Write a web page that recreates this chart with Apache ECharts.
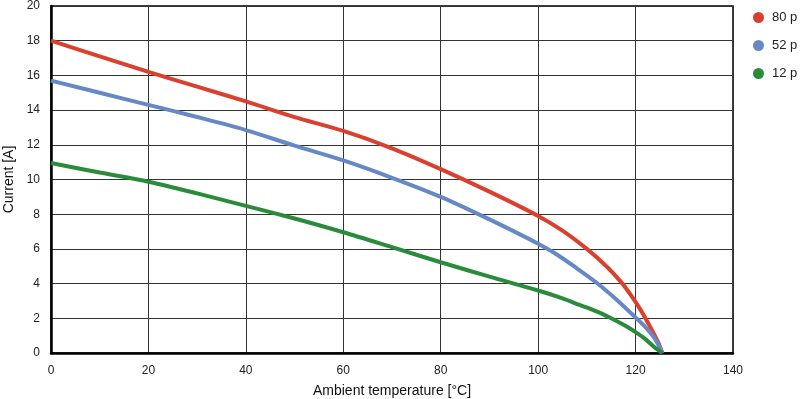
<!DOCTYPE html>
<html>
<head>
<meta charset="utf-8">
<script src="https://cdn.jsdelivr.net/npm/echarts@6/dist/echarts.min.js"></script>
<style>
html,body{margin:0;padding:0;background:#fff;}
#c{width:800px;height:399px;}
</style>
</head>
<body>
<div id="c"></div>
<script>
var seriesNames = ['80 p', '52 p', '12 p'];
var seriesColors = ['#d9412e', '#6689c6', '#2a8b3a'];
var red80 = [[0,18],[10,17.1],[20,16.2],[30,15.35],[40,14.5],[50,13.6],[60,12.8],[70,11.8],[80,10.6],[90,9.3],[100,7.9],[105,7.05],[110,6.0],[114,5.0],[117,4.1],[119,3.35],[121,2.5],[123,1.5],[124.5,0.7],[125.5,0]];
var blue52 = [[0,15.7],[10,15.0],[20,14.3],[30,13.6],[40,12.85],[50,11.95],[60,11.1],[70,10.1],[80,9.0],[90,7.7],[100,6.3],[104,5.65],[108,4.87],[112,4.05],[116,3.1],[120,2.05],[122,1.5],[124,0.8],[125.5,0]];
var green12 = [[0,10.95],[10,10.4],[20,9.87],[30,9.2],[40,8.48],[50,7.75],[60,6.96],[70,6.1],[80,5.23],[90,4.4],[100,3.6],[105,3.15],[108.5,2.77],[112,2.4],[115,2.0],[118,1.55],[120,1.2],[122,0.8],[124,0.3],[125.5,0]];
var xTicks = {min:0, max:140, interval:20};
var yTicks = {min:0, max:20, interval:2};
var allData = [red80, blue52, green12];

var chart = echarts.init(document.getElementById('c'), null, {renderer:'canvas'});
var font = 'Liberation Sans, Arial, sans-serif';
chart.setOption({
  animation:false,
  backgroundColor:'#fff',
  grid:{left:51, right:67, top:6, bottom:46, outerBoundsMode:'none', containLabel:false,
        show:true, borderColor:'#000', borderWidth:1.5, backgroundColor:'transparent'},
  legend:{
    orient:'vertical', left:748, top:6, itemGap:15, itemWidth:11, itemHeight:11,
    icon:'circle', data:seriesNames,
    textStyle:{fontFamily:font, fontSize:13, color:'#222', padding:[0,0,0,3]}
  },
  xAxis:{
    type:'value', min:xTicks.min, max:xTicks.max, interval:xTicks.interval,
    name:'Ambient temperature [°C]', nameLocation:'middle', nameGap:31,
    nameTextStyle:{fontFamily:font, fontSize:14, color:'#111'},
    axisLine:{show:true, lineStyle:{color:'#000', width:2.5}},
    axisTick:{show:false},
    axisLabel:{fontFamily:font, fontSize:12, color:'#222', margin:12},
    splitLine:{show:true, lineStyle:{color:'#333', width:1}}
  },
  yAxis:{
    type:'value', min:yTicks.min, max:yTicks.max, interval:yTicks.interval,
    name:'Current [A]', nameLocation:'middle', nameGap:34,
    nameTextStyle:{fontFamily:font, fontSize:14, color:'#111'},
    axisLine:{show:true, lineStyle:{color:'#000', width:2.5}},
    axisTick:{show:false},
    axisLabel:{fontFamily:font, fontSize:12, color:'#222', margin:11},
    splitLine:{show:true, lineStyle:{color:'#333', width:1}}
  },
  series: seriesNames.map(function(n, i){
    return {
      name:n, type:'line', data:allData[i], showSymbol:false, symbol:'circle',
      smooth:0.3,
      itemStyle:{color:seriesColors[i]},
      lineStyle:{color:seriesColors[i], width:4}
    };
  })
});
</script>
</body>
</html>
